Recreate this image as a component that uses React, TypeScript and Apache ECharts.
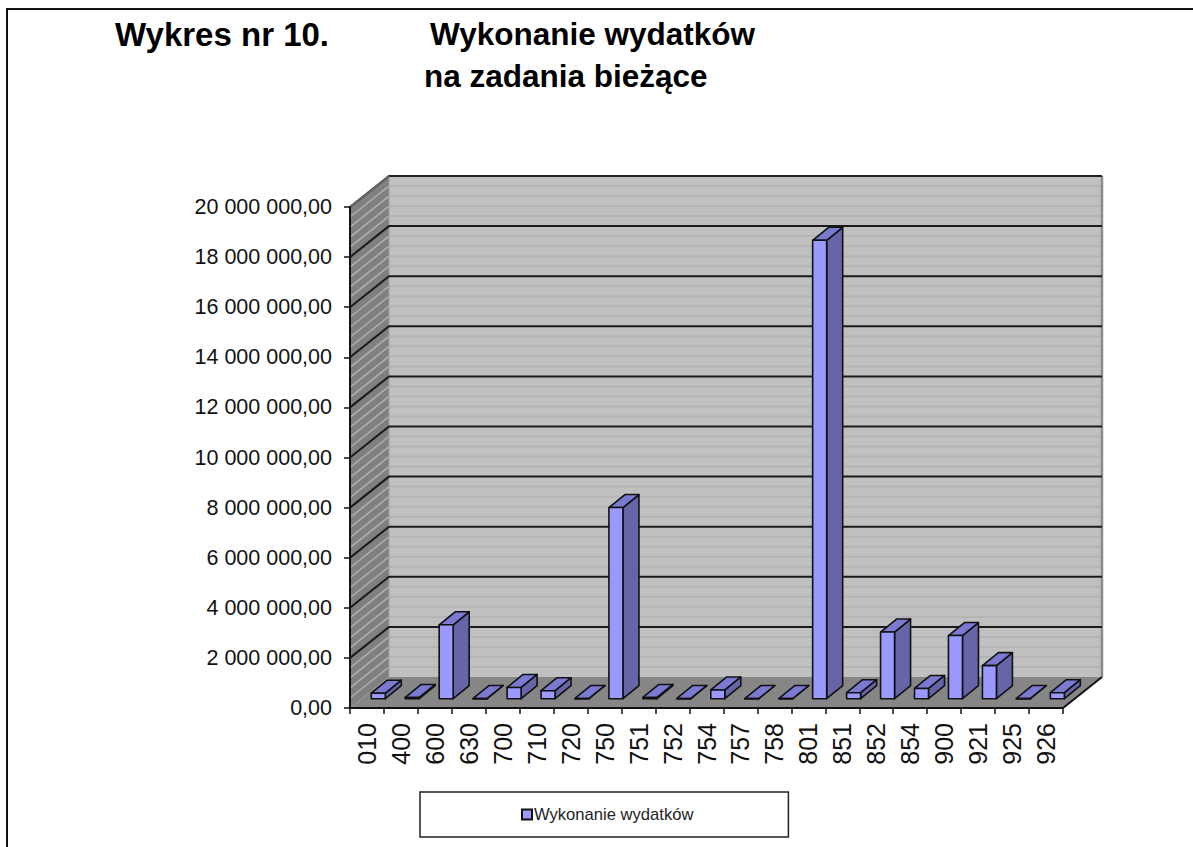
import React, { useEffect, useRef } from "react";
import * as echarts from "echarts";

const categories = ["010","400","600","630","700","710","720","750","751","752","754","757","758","801","851","852","854","900","921","925","926"];
const seriesName = "Wykonanie wydatków";
const values = [220000,50000,2950000,10000,450000,320000,10000,7630000,50000,10000,350000,5000,5000,18300000,240000,2660000,410000,2520000,1320000,10000,240000];
const gridValues = [2000000,4000000,6000000,8000000,10000000,12000000,14000000,16000000,18000000,20000000];
const stripeValues = [400000,800000,1200000,1600000,2400000,2800000,3200000,3600000,4400000,4800000,5200000,5600000,6400000,6800000,7200000,7600000,8400000,8800000,9200000,9600000,10400000,10800000,11200000,11600000,12400000,12800000,13200000,13600000,14400000,14800000,15200000,15600000,16400000,16800000,17200000,17600000,18400000,18800000,19200000,19600000];

const FONT = "Liberation Sans";
const DX = 39, DY = -31;
const BAR_DX = 11.3, BAR_DY = -9.3, BAR_W = 14, BAR_DEPTH_X = 16, BAR_DEPTH_Y = -13;

function formatTick(v: number) {
  const s = String(Math.round(v));
  return s.replace(/\B(?=(\d{3})+(?!\d))/g, " ") + ",00";
}

function renderWalls(_p: any, api: any) {
  const band = api.size([1, 0])[0];
  const x0 = api.coord([0, 0])[0] - band / 2;
  const x1 = api.coord([categories.length - 1, 0])[0] + band / 2;
  const y = (v: number) => api.coord([0, v])[1];
  const y0 = y(0), yT = y(20000000);
  const kids: any[] = [];
  kids.push({ type: "polygon", shape: { points: [[x0 + DX, yT + DY], [x1 + DX, yT + DY], [x1 + DX, y0 + DY], [x0 + DX, y0 + DY]] }, style: { fill: "#c0c0c0" } });
  kids.push({ type: "polygon", shape: { points: [[x0, yT], [x0 + DX, yT + DY], [x0 + DX, y0 + DY], [x0, y0]] }, style: { fill: "#808080" } });
  stripeValues.forEach((v) => {
    kids.push({ type: "line", shape: { x1: x0 + DX, y1: y(v) + DY, x2: x1 + DX, y2: y(v) + DY }, style: { stroke: "#b4b4b4", lineWidth: 2 } });
    kids.push({ type: "line", shape: { x1: x0, y1: y(v), x2: x0 + DX, y2: y(v) + DY }, style: { stroke: "#b0b0b0", lineWidth: 1.5 } });
  });
  kids.push({ type: "polygon", shape: { points: [[x0, y0], [x1, y0], [x1 + DX, y0 + DY], [x0 + DX, y0 + DY]] }, style: { fill: "#868686" } });
  kids.push({ type: "line", shape: { x1: x1 + DX, y1: yT + DY, x2: x1 + DX, y2: y0 + DY }, style: { stroke: "#8c8c8c", lineWidth: 2.5 } });
  kids.push({ type: "line", shape: { x1: x0 + DX, y1: yT + DY, x2: x0 + DX, y2: y0 + DY }, style: { stroke: "#a0a0a0", lineWidth: 1 } });
  gridValues.forEach((v) => {
    kids.push({ type: "polyline", shape: { points: [[x0, y(v)], [x0 + DX, y(v) + DY], [x1 + DX, y(v) + DY]] }, style: { fill: "none", stroke: v === 20000000 ? "#222" : "#1a1a1a", lineWidth: 2 } });
  });
  kids.push({ type: "line", shape: { x1: x0, y1: yT, x2: x0 + DX, y2: yT + DY }, style: { stroke: "#666", lineWidth: 2 } });
  kids.push({ type: "line", shape: { x1: x1, y1: y0, x2: x1 + DX, y2: y0 + DY }, style: { stroke: "#111", lineWidth: 2 } });
  return { type: "group", children: kids };
}

function renderBar(_p: any, api: any) {
  const pt = api.coord([api.value(0), api.value(1)]);
  const base = api.coord([api.value(0), 0]);
  const l = pt[0] + BAR_DX - BAR_W / 2, r = l + BAR_W;
  const top = pt[1] + BAR_DY, bot = base[1] + BAR_DY;
  const edge = { stroke: "#111", lineWidth: 1.6, lineJoin: "round" };
  return {
    type: "group",
    children: [
      { type: "polygon", shape: { points: [[r, top], [r + BAR_DEPTH_X, top + BAR_DEPTH_Y], [r + BAR_DEPTH_X, bot + BAR_DEPTH_Y], [r, bot]] }, style: { fill: "#6565a8", ...edge } },
      { type: "polygon", shape: { points: [[l, top], [r, top], [r + BAR_DEPTH_X, top + BAR_DEPTH_Y], [l + BAR_DEPTH_X, top + BAR_DEPTH_Y]] }, style: { fill: "#7a7ad2", ...edge } },
      { type: "rect", shape: { x: l, y: top, width: BAR_W, height: Math.max(bot - top, 0.5) }, style: { fill: "#9999ff", ...edge } },
    ],
  };
}

export default function App() {
  const ref = useRef<HTMLDivElement>(null);
  useEffect(() => {
    document.body.style.margin = "0";
    const chart = echarts.init(ref.current!, undefined, { renderer: "svg" });
    chart.setOption({
      animation: false,
      backgroundColor: "#fff",
      title: [
        { text: "Wykres nr 10.", left: 115, top: 18, padding: 0, textStyle: { fontFamily: FONT, fontSize: 33, fontWeight: "bold", color: "#000" } },
        { text: "Wykonanie wydatków", left: 430, top: 18, padding: 0, textStyle: { fontFamily: FONT, fontSize: 31.5, fontWeight: "bold", color: "#000" } },
        { text: "na zadania bieżące", left: 424, top: 60, padding: 0, textStyle: { fontFamily: FONT, fontSize: 31.5, fontWeight: "bold", color: "#000" } },
      ],
      grid: { left: 350, right: 130, top: 207, bottom: 139, containLabel: false },
      xAxis: {
        type: "category",
        data: categories,
        z: 5,
        axisLine: { lineStyle: { color: "#111", width: 2 } },
        axisTick: { show: true, length: 6, lineStyle: { color: "#111", width: 1.5 } },
        axisLabel: { interval: 0, rotate: 90, margin: 15, fontFamily: FONT, fontSize: 25, color: "#111" },
        splitLine: { show: false },
      },
      yAxis: {
        type: "value",
        min: 0,
        max: 20000000,
        interval: 2000000,
        z: 5,
        axisLine: { show: true, lineStyle: { color: "#111", width: 2 } },
        axisTick: { show: true, length: 6, lineStyle: { color: "#111", width: 1.5 } },
        axisLabel: { margin: 18, formatter: (v: number) => formatTick(v), fontFamily: FONT, fontSize: 21.5, color: "#111" },
        splitLine: { show: false },
      },
      legend: {
        data: [seriesName],
        left: 420,
        top: 792,
        padding: [14, 95, 14, 101],
        backgroundColor: "#fff",
        borderColor: "#222",
        borderWidth: 1.5,
        borderRadius: 0,
        itemWidth: 10,
        itemHeight: 10,
        itemGap: 0,
        icon: "rect",
        selectedMode: false,
        textStyle: { fontFamily: FONT, fontSize: 16.6, color: "#222", padding: [0, 0, 0, -3] },
      },
      series: [
        { type: "custom", name: "walls", silent: true, z: 1, coordinateSystem: "cartesian2d", renderItem: renderWalls, data: [[0, 0]], encode: { x: 0, y: 1 } },
        {
          type: "custom",
          name: seriesName,
          z: 2,
          coordinateSystem: "cartesian2d",
          renderItem: renderBar,
          itemStyle: { color: "#9999ff", borderColor: "#111", borderWidth: 2 },
          encode: { x: 0, y: 1 },
          data: values.map((v, i) => [i, v]),
        },
      ],
      graphic: [
        { type: "polyline", z: 10, shape: { points: [[7, 847], [7, 9], [1193, 9]] }, style: { fill: "none", stroke: "#111", lineWidth: 2 } },
      ],
    });
    return () => chart.dispose();
  }, []);
  return <div ref={ref} style={{ width: 1193, height: 847 }} />;
}
